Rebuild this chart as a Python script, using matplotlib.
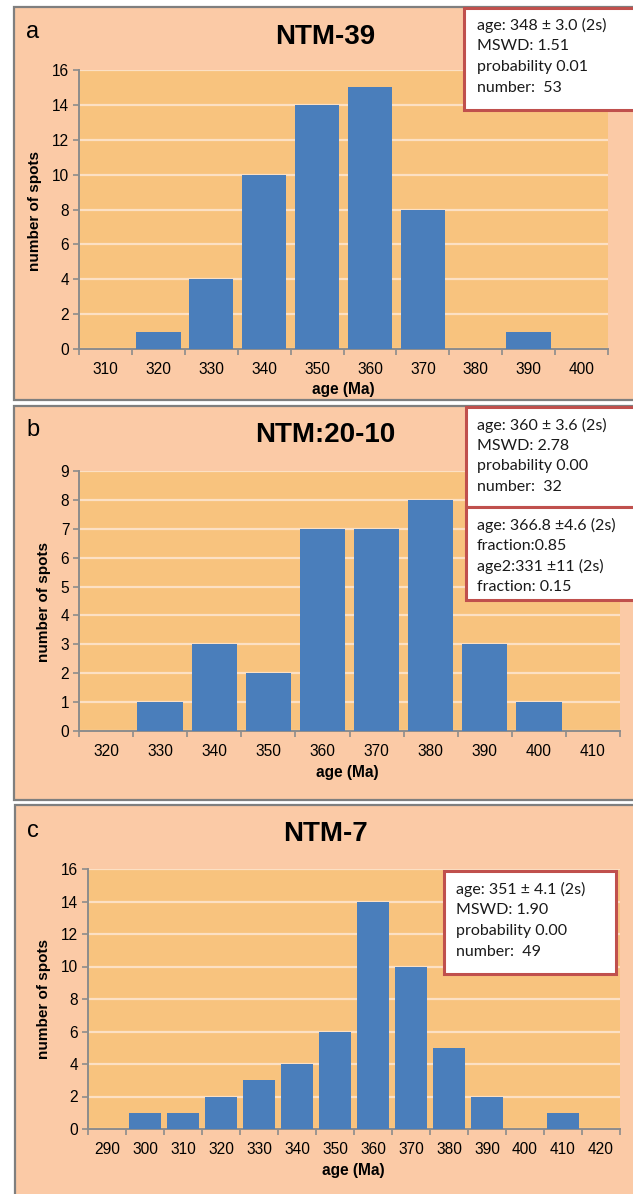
import matplotlib
matplotlib.use("Agg")
import matplotlib.pyplot as plt
from matplotlib.patches import Rectangle

W, H = 633, 1194

# panel a: NTM-39
ages_a = [310, 320, 330, 340, 350, 360, 370, 380, 390, 400]
counts_a = [0, 1, 4, 10, 14, 15, 8, 0, 1, 0]
box_a = ["age: 348 \u00b1 3.0 (2s)", "MSWD: 1.51", "probability 0.01", "number:  53"]

# panel b: NTM:20-10
ages_b = [320, 330, 340, 350, 360, 370, 380, 390, 400, 410]
counts_b = [0, 1, 3, 2, 7, 7, 8, 3, 1, 0]
box_b1 = ["age: 360 \u00b1 3.6 (2s)", "MSWD: 2.78", "probability 0.00", "number:  32"]
box_b2 = ["age: 366.8 \u00b14.6 (2s)", "fraction:0.85", "age2:331 \u00b111 (2s)", "fraction: 0.15"]

# panel c: NTM-7
ages_c = [290, 300, 310, 320, 330, 340, 350, 360, 370, 380, 390, 400, 410, 420]
counts_c = [0, 1, 1, 2, 3, 4, 6, 14, 10, 5, 2, 0, 1, 0]
box_c = ["age: 351 \u00b1 4.1 (2s)", "MSWD: 1.90", "probability 0.00", "number:  49"]

peach = "#FBCAA6"
plot_bg = "#F8C37E"
bar_col = "#4A7EBB"
grid_col = "#FCE0C4"
axis_col = "#8C8C8C"
box_edge = "#C0504D"

plt.rcParams['font.family'] = ['Liberation Sans', 'DejaVu Sans']

fig = plt.figure(figsize=(W / 100, H / 100), dpi=100)
fig.patch.set_facecolor("white")


def fx(x):
    return x / W


def fy(y):
    return 1 - y / H


def panel_frame(top, bottom, left):
    fig.patches.append(Rectangle((fx(left), fy(bottom)), fx(W + 20 - left), (bottom - top) / H,
                                 transform=fig.transFigure, facecolor=peach,
                                 edgecolor="#7F7F7F", lw=1.6, zorder=-5))


def text_box(x0, y0, x1, y1, lines, tx, ly0, dy):
    fig.patches.append(Rectangle((fx(x0), fy(y1)), (x1 - x0) / W, (y1 - y0) / H,
                                 transform=fig.transFigure, facecolor="white",
                                 edgecolor=box_edge, lw=2.2, zorder=5))
    for i, s in enumerate(lines):
        fig.text(fx(tx), fy(ly0 + i * dy), s, fontsize=11.5, family=['Lato', 'DejaVu Sans'],
                 va="center", ha="left", color="#1a1a1a", zorder=6)


def draw_hist(l, r, t, b, ages, counts, ymax, ystep):
    ax = fig.add_axes([fx(l), fy(b), (r - l) / W, (b - t) / H])
    ax.set_zorder(1)
    ax.set_facecolor(plot_bg)
    x = list(range(len(ages)))
    ax.bar(x, counts, width=0.84, color=bar_col, zorder=3)
    ax.set_xlim(-0.5, len(ages) - 0.5)
    ax.set_ylim(0, ymax)
    ax.set_yticks(range(0, ymax + 1, ystep))
    ax.set_xticks(x)
    ax.set_xticklabels([str(a) for a in ages])
    ax.set_xticks([i - 0.5 for i in range(len(ages) + 1)], minor=True)
    ax.tick_params(axis="x", which="major", length=0, pad=9, labelsize=11.2)
    ax.tick_params(axis="x", which="minor", length=4, width=1.2, color=axis_col)
    ax.tick_params(axis="y", length=4, width=1.2, color=axis_col, labelsize=11.2, pad=3)
    ax.yaxis.grid(True, color=grid_col, lw=1.6, zorder=1)
    ax.set_axisbelow(True)
    for s in ["top", "right"]:
        ax.spines[s].set_visible(False)
    for s in ["left", "bottom"]:
        ax.spines[s].set_color(axis_col)
        ax.spines[s].set_linewidth(1.4)
    return ax


# panel a
panel_frame(7, 400, 14)
draw_hist(79, 608, 70, 349, ages_a, counts_a, 16, 2)
fig.text(fx(33), fy(32), "a", fontsize=17, ha="center", va="center")
fig.text(fx(325), fy(37), "NTM-39", fontsize=20, fontweight="bold", ha="center", va="center")
fig.text(fx(35), fy(211), "number of spots", fontsize=11, fontweight="bold",
         rotation=90, ha="center", va="center")
fig.text(fx(343), fy(389), "age (Ma)", fontsize=11.2, fontweight="bold", ha="center", va="center")
text_box(464, 8, 660, 110, box_a, 477, 25, 21)

# panel b
panel_frame(406, 800, 14)
draw_hist(79, 620, 471, 731, ages_b, counts_b, 9, 1)
fig.text(fx(33), fy(430), "b", fontsize=17, ha="center", va="center")
fig.text(fx(325), fy(435), "NTM:20-10", fontsize=20, fontweight="bold", ha="center", va="center")
fig.text(fx(44), fy(602), "number of spots", fontsize=11, fontweight="bold",
         rotation=90, ha="center", va="center")
fig.text(fx(347), fy(773), "age (Ma)", fontsize=11.2, fontweight="bold", ha="center", va="center")
text_box(466, 407, 660, 507, box_b1, 477, 425, 20.7)
text_box(466, 507, 660, 600, box_b2, 477, 525, 20.7)

# panel c
panel_frame(805, 1215, 15)
draw_hist(88, 620, 869, 1129, ages_c, counts_c, 16, 2)
fig.text(fx(33), fy(831), "c", fontsize=17, ha="center", va="center")
fig.text(fx(326), fy(834), "NTM-7", fontsize=20, fontweight="bold", ha="center", va="center")
fig.text(fx(44), fy(999), "number of spots", fontsize=11, fontweight="bold",
         rotation=90, ha="center", va="center")
fig.text(fx(353), fy(1171), "age (Ma)", fontsize=11.2, fontweight="bold", ha="center", va="center")
text_box(444, 871, 616, 974, box_c, 456, 889, 21)

fig.savefig("out.png", dpi=100)
